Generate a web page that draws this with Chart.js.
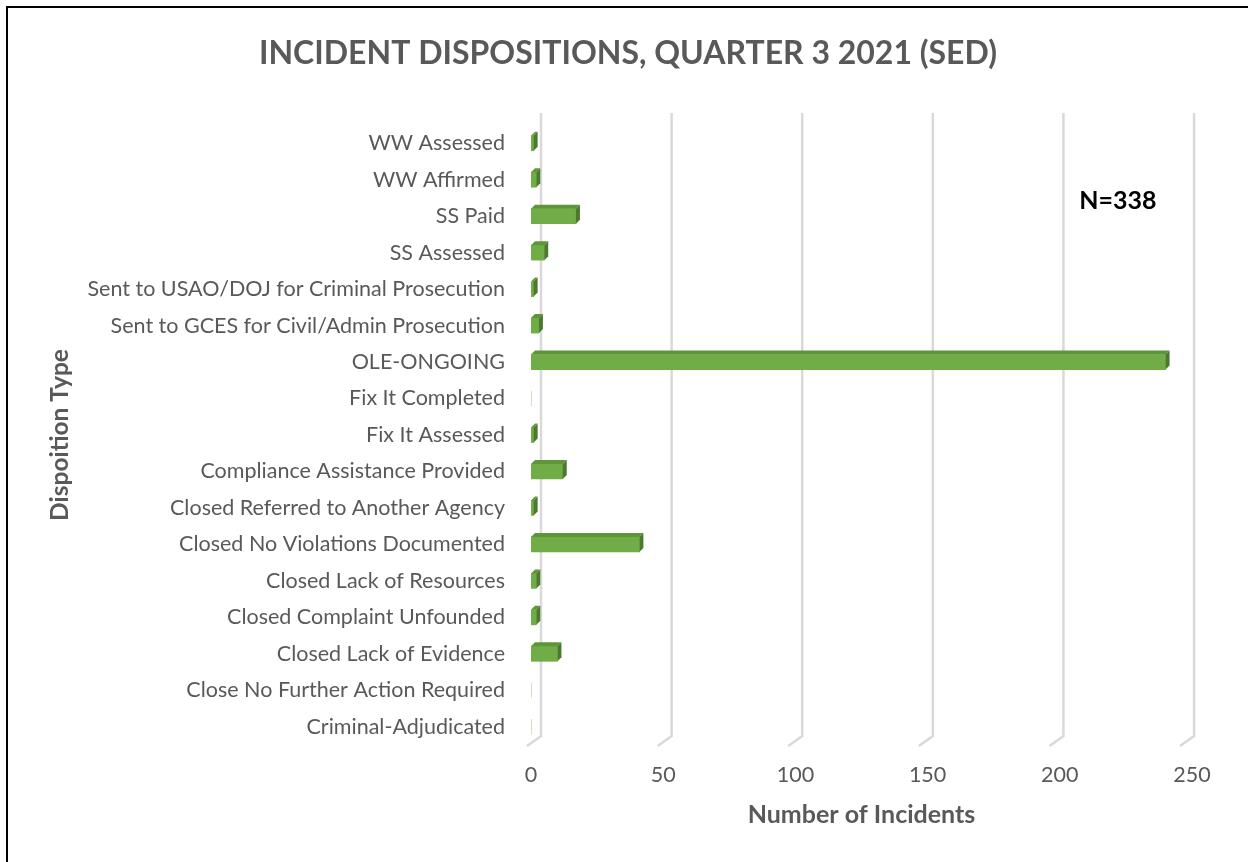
<!DOCTYPE html>
<html>
<head>
<meta charset="utf-8">
<script src="https://cdn.jsdelivr.net/npm/chart.js@4.4.1/dist/chart.umd.min.js"></script>
<style>
  html, body { margin: 0; padding: 0; background: #fff; overflow: hidden; }
  #wrap { position: relative; width: 1248px; height: 862px; }
  #frame {
    position: absolute; left: 6px; top: 6px; width: 1260px; height: 880px;
    border-left: 2px solid #000; border-top: 2px solid #000; pointer-events: none;
  }
</style>
</head>
<body>
<div id="wrap">
  <canvas id="chartDispositions" width="1248" height="862"></canvas>
  <div id="frame"></div>
</div>
<script>
/* Incident dispositions, Q3 2021 (SED) */

const categories = [
  "WW Assessed",
  "WW Affirmed",
  "SS Paid",
  "SS Assessed",
  "Sent to USAO/DOJ for Criminal Prosecution",
  "Sent to GCES for Civil/Admin Prosecution",
  "OLE-ONGOING",
  "Fix It Completed",
  "Fix It Assessed",
  "Compliance Assistance Provided",
  "Closed Referred to Another Agency",
  "Closed No Violations Documented",
  "Closed Lack of Resources",
  "Closed Complaint Unfounded",
  "Closed Lack of Evidence",
  "Close No Further Action Required",
  "Criminal-Adjudicated"
];
const incidents = [1, 2, 17, 5, 1, 3, 240, 0, 1, 12, 1, 41, 2, 2, 10, 0, 0];
const xTicks    = [0, 50, 100, 150, 200, 250];
const totalLabel = "N=338";

const FONT  = "Lato, 'Open Sans', sans-serif";
const GREY  = "#595959";
const GREEN = "#70ad47";

// back-wall gridlines (fake 3D)
const gridWall = {
  id: "gridWall",
  beforeDatasetsDraw(chart) {
    const { ctx, chartArea: ca, scales: { x } } = chart;
    ctx.save();
    ctx.strokeStyle = "#d9d9d9";
    ctx.lineWidth = 2.5;
    xTicks.forEach(v => {
      const px = x.getPixelForValue(v);
      const bx = ca.left + 10 + (px - ca.left) * 0.988;
      ctx.beginPath();
      ctx.moveTo(bx, ca.top - 12);
      ctx.lineTo(bx, ca.bottom - 9);
      ctx.lineTo(bx - 14, ca.bottom + 1);
      ctx.stroke();
    });
    ctx.restore();
  }
};

// top + side faces of the bars
const barDepth = {
  id: "barDepth",
  afterDatasetsDraw(chart) {
    const { ctx } = chart;
    const d = 4;
    chart.getDatasetMeta(0).data.forEach((bar, i) => {
      if (!incidents[i]) return;
      const top = bar.y - bar.height / 2;
      const bot = bar.y + bar.height / 2;
      ctx.save();
      ctx.fillStyle = "#5f9539";
      ctx.beginPath();
      ctx.moveTo(bar.base, top);
      ctx.lineTo(bar.base + d, top - d);
      ctx.lineTo(bar.x + d, top - d);
      ctx.lineTo(bar.x, top);
      ctx.closePath();
      ctx.fill();
      ctx.fillStyle = "#4b7a2d";
      ctx.beginPath();
      ctx.moveTo(bar.x, top);
      ctx.lineTo(bar.x + d, top - d);
      ctx.lineTo(bar.x + d, bot - d);
      ctx.lineTo(bar.x, bot);
      ctx.closePath();
      ctx.fill();
      ctx.restore();
    });
  }
};

// N= annotation
const totalNote = {
  id: "totalNote",
  afterDraw(chart) {
    const { ctx, scales: { x, y } } = chart;
    const ty = (y.getPixelForValue(1) + y.getPixelForValue(2)) / 2 + 3;
    ctx.save();
    ctx.font = "bold 25px " + FONT;
    ctx.fillStyle = "#000";
    ctx.textAlign = "center";
    ctx.textBaseline = "middle";
    ctx.fillText(totalLabel, x.getPixelForValue(222), ty);
    ctx.restore();
  }
};

new Chart(document.getElementById("chartDispositions"), {
  type: "bar",
  data: {
    labels: categories,
    datasets: [{
      label: "Number of Incidents",
      data: incidents,
      backgroundColor: GREEN,
      borderWidth: 0,
      barThickness: 15
    }]
  },
  options: {
    responsive: false,
    animation: false,
    indexAxis: "y",
    layout: { padding: { left: 64, right: 56, top: 0, bottom: 0 } },
    plugins: {
      legend:  { display: false },
      tooltip: { enabled: false },
      title: {
        display: true,
        text: "INCIDENT DISPOSITIONS, QUARTER 3 2021 (SED)",
        color: GREY,
        font: { family: FONT, size: 32, weight: "bold", lineHeight: 1.2 },
        padding: { top: 34, bottom: 52.6 }
      }
    },
    scales: {
      x: {
        min: 0,
        max: 250,
        afterBuildTicks: s => { s.ticks = xTicks.map(v => ({ value: v })); },
        afterFit: s => { s.height = 117; },
        grid:   { display: false, drawTicks: false },
        border: { display: false },
        ticks:  { color: GREY, padding: 17, font: { family: FONT, size: 21.5 } },
        title: {
          display: true,
          text: "Number of Incidents",
          color: GREY,
          font: { family: FONT, size: 25, weight: "bold", lineHeight: 1.2 },
          padding: { top: 0, bottom: 32 }
        }
      },
      y: {
        afterFit: s => { s.width = 531 - 64; },
        grid:   { display: false, drawTicks: false },
        border: { display: false },
        ticks:  { color: GREY, padding: 26, autoSkip: false, font: { family: FONT, size: 21.5 } },
        title: {
          display: true,
          text: "Dispoition Type",
          color: GREY,
          font: { family: FONT, size: 24.5, weight: "bold", lineHeight: 1.2 },
          padding: { top: -18.7, bottom: 0 }
        }
      }
    }
  },
  plugins: [gridWall, barDepth, totalNote]
});
</script>
</body>
</html>
